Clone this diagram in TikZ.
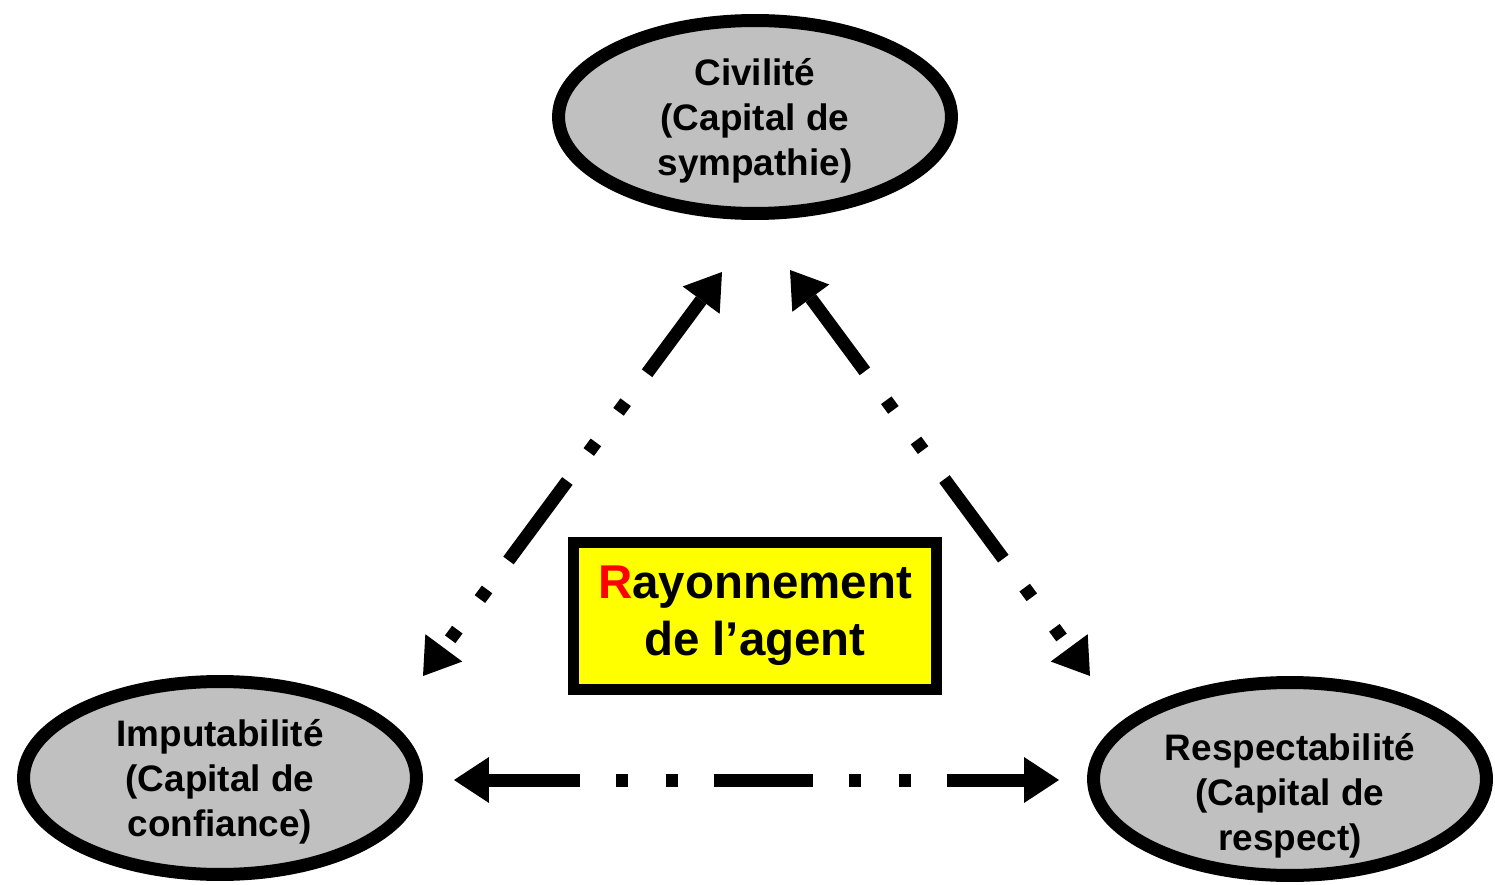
\documentclass[tikz,border=0pt]{standalone}
\usepackage{fontspec}
\setmainfont{Liberation Sans}
\usetikzlibrary{arrows.meta,shapes.geometric}
\definecolor{capgray}{HTML}{C0C0C0}
\definecolor{rayyellow}{HTML}{FFFF00}
\tikzset{
	capital/.style={ellipse, draw=black, line width=0.26cm, fill=capgray, minimum width=7.86cm, minimum height=3.86cm, inner sep=0pt},
	captext/.style={align=center, font=\fontsize{21}{25.6}\selectfont\bfseries},
	raybox/.style={rectangle, draw=black, line width=0.23cm, fill=rayyellow, minimum width=7.26cm, minimum height=2.94cm, align=center, font=\fontsize{27}{32.4}\selectfont\bfseries},
	lien/.style={line width=0.26cm, {Triangle[length=0.7cm,width=0.92cm,line width=0pt]}-{Triangle[length=0.7cm,width=0.92cm,line width=0pt]}, dash pattern=on 1.98cm off 0.72cm on 0.24cm off 0.76cm on 0.24cm off 0.72cm, dash phase=0.16cm}
}

\begin{document}
\begin{tikzpicture}[x=0.02cm, y=-0.02cm]
			%%%%% START %%%%%
			
			\useasboundingbox (0, 0) rectangle (1495, 885);
			
			\node[capital] (civ) at (755, 117) {};
			\node[captext] (civtext) at ([yshift=-0.07cm]civ.center) {Civilité\\(Capital de\\sympathie)};
			
			\node[capital] (imp) at (220, 778) {};
			\node[captext] (imptext) at ([yshift=-0.07cm]imp.center) {Imputabilité\\(Capital de\\confiance)};
			
			\node[capital] (resp) at (1290, 779) {};
			\node[captext] (resptext) at ([yshift=-0.33cm]resp.center) {Respectabilité\\(Capital de\\respect)};
			
			\node[raybox] (ray) at (755, 616) {\textcolor{red}{R}ayonnement\\de l’agent};
			
			\coordinate (civ-sw) at (722, 272);
			\coordinate (imp-ne) at (423, 676);
			\coordinate (civ-se) at (790, 270);
			\coordinate (resp-nw) at (1090, 676);
			\coordinate (imp-e) at (454, 780);
			\coordinate (resp-w) at (1059, 780);
			
			\draw[lien] (civ-sw) -- (imp-ne);
			\draw[lien] (civ-se) -- (resp-nw);
			\draw[lien] (imp-e) -- (resp-w);
			
			%%%%% END %%%%%
\end{tikzpicture}
\end{document}
